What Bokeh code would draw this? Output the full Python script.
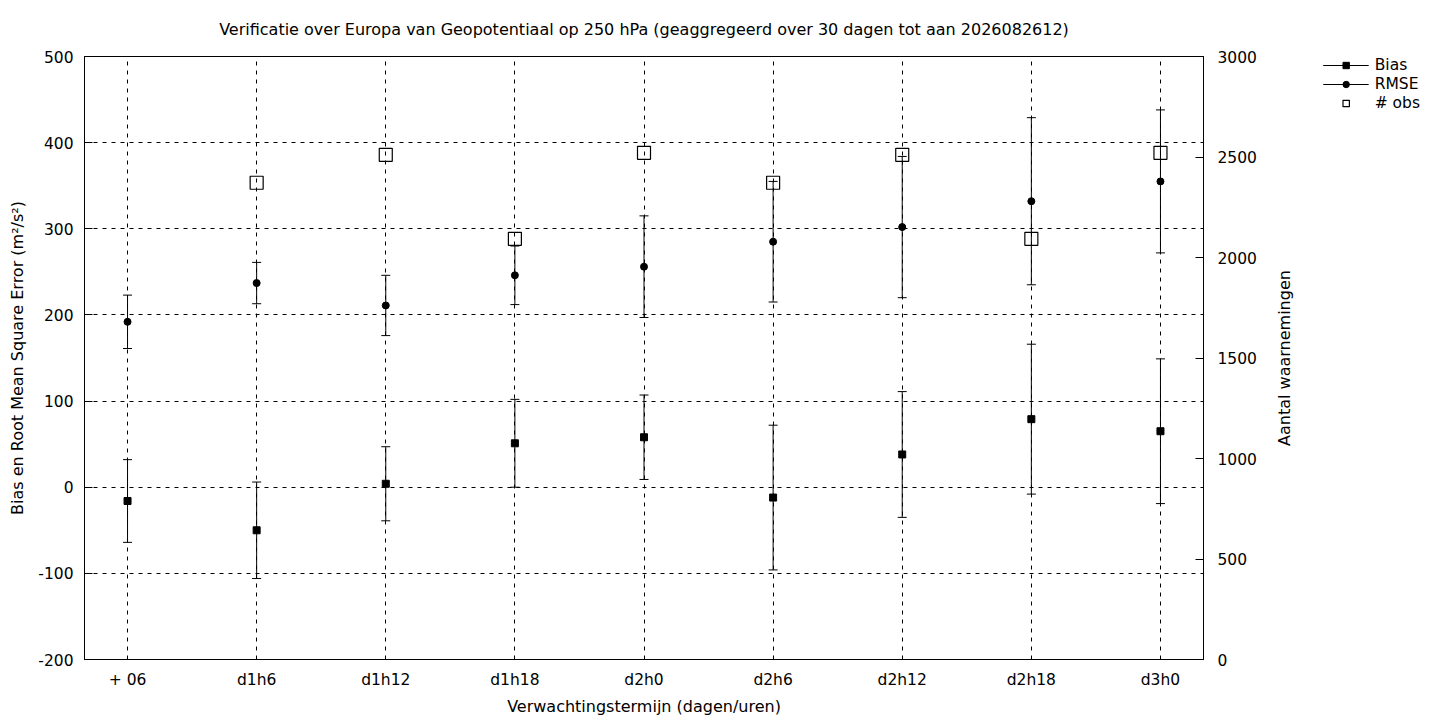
import math
from bokeh.plotting import figure
from bokeh.layouts import row
from bokeh.models import (Range1d, LinearAxis, FixedTicker, Legend, LegendItem,
                          ColumnDataSource, Label)
from bokeh.embed import file_html
from bokeh.resources import INLINE

FONT = "DejaVu Sans"

# forecast lead times
lead_labels = ["+ 06", "d1h6", "d1h12", "d1h18", "d2h0", "d2h6", "d2h12", "d2h18", "d3h0"]

bias = [-16, -50, 4, 51, 58, -12, 38, 79, 65]
bias_err = [48, 56, 43, 51, 49, 84, 73, 87, 84]

rmse = [192, 237, 211, 246, 256, 285, 302, 332, 355]
rmse_err = [31, 24, 35, 34, 59, 70, 82, 97, 83]

n_obs = [float("nan"), 2372, 2511, 2093, 2521, 2372, 2511, 2093, 2521]

y_ticks = list(range(-200, 501, 100))
y2_ticks = list(range(0, 3001, 500))

x = list(range(len(lead_labels)))

W, H = 1440, 720
MAIN_W = 1265
TOP = 56
BOTTOM = 61


def err_source(vals, errs):
    return ColumnDataSource(dict(
        x=x, y=vals,
        lo=[v - e for v, e in zip(vals, errs)],
        hi=[v + e for v, e in zip(vals, errs)],
    ))


fig = figure(width=MAIN_W, height=H, output_backend="svg", toolbar_location=None,
             x_range=Range1d(-1 / 3, len(x) - 1 + 1 / 3),
             y_range=Range1d(-200, 500),
             min_border_left=84, min_border_right=62,
             min_border_top=TOP, min_border_bottom=BOTTOM)
fig.extra_y_ranges = {"obs": Range1d(0, 3000)}

fig.title.text = ("Verificatie over Europa van Geopotentiaal op 250 hPa "
                  "(geaggregeerd over 30 dagen tot aan 2026082612)")
fig.title.align = "center"
fig.title.text_font = FONT
fig.title.text_font_size = "16px"
fig.title.text_font_style = "normal"
fig.title.text_color = "black"
fig.title.standoff = 35

fig.outline_line_color = "black"
fig.outline_line_alpha = 1

for g in (fig.xgrid, fig.ygrid):
    g.grid_line_color = "black"
    g.grid_line_dash = "4 5"
    g.grid_line_width = 1
    g.grid_line_alpha = 1

fig.xaxis.ticker = FixedTicker(ticks=x)
fig.xaxis.major_label_overrides = {i: lab for i, lab in enumerate(lead_labels)}
fig.xaxis.axis_label = "Verwachtingstermijn (dagen/uren)"
fig.xaxis.major_tick_in = 0
fig.xaxis.major_tick_out = 0
fig.xaxis.minor_tick_line_color = None
fig.xaxis.major_label_standoff = 11
fig.xaxis.axis_label_standoff = 5

fig.yaxis.ticker = FixedTicker(ticks=y_ticks)
fig.yaxis.major_label_overrides = {t: str(t) for t in y_ticks}
fig.yaxis.axis_label = "Bias en Root Mean Square Error (m²/s²)"
fig.yaxis.major_tick_in = 8
fig.yaxis.major_tick_out = 0
fig.yaxis.minor_tick_line_color = None
fig.yaxis.major_label_standoff = 11
fig.yaxis.axis_label_standoff = 8

y2 = LinearAxis(y_range_name="obs", ticker=FixedTicker(ticks=y2_ticks))
y2.major_tick_in = 8
y2.major_tick_out = 0
y2.minor_tick_line_color = None
y2.major_label_standoff = 14
fig.add_layout(y2, "right")

for ax in (fig.xaxis[0], fig.yaxis[0], y2):
    ax.axis_line_color = "black"
    ax.major_tick_line_color = "black"
    ax.major_label_text_font = FONT
    ax.major_label_text_font_size = "15.5px"
    ax.major_label_text_color = "black"
    ax.axis_label_text_font = FONT
    ax.axis_label_text_font_size = "16px"
    ax.axis_label_text_font_style = "normal"
    ax.axis_label_text_color = "black"

# Bias
src_b = err_source(bias, bias_err)
fig.segment("x", "lo", "x", "hi", source=src_b, line_color="black", line_width=1)
fig.scatter("x", "lo", source=src_b, marker="dash", size=9, line_color="black")
fig.scatter("x", "hi", source=src_b, marker="dash", size=9, line_color="black")
fig.scatter("x", "y", source=src_b, marker="square", size=7,
            fill_color="black", line_color="black")

# RMSE
src_r = err_source(rmse, rmse_err)
fig.segment("x", "lo", "x", "hi", source=src_r, line_color="black", line_width=1)
fig.scatter("x", "lo", source=src_r, marker="dash", size=9, line_color="black")
fig.scatter("x", "hi", source=src_r, marker="dash", size=9, line_color="black")
fig.scatter("x", "y", source=src_r, marker="circle", size=7,
            fill_color="black", line_color="black")

# number of observations on the right axis
fig.scatter(x, n_obs, y_range_name="obs", marker="square", size=13,
            fill_color=None, line_color="black", line_width=1.2)

# strip to the right of the plot: y2 title and the key.
# Its frame has the same top and bottom as the plot, and its ranges are in pixels;
# the key's sample glyphs sit at a point off the strip.
key_w = W - MAIN_W
key_pad_r = 20
key_fw = key_w - key_pad_r
key_fh = H - TOP - BOTTOM
key = figure(width=key_w, height=H, output_backend="svg", toolbar_location=None,
             x_range=Range1d(0, key_fw), y_range=Range1d(0, key_fh),
             x_axis_location=None, y_axis_location=None,
             min_border_left=0, min_border_right=key_pad_r,
             min_border_top=TOP, min_border_bottom=BOTTOM)
key.grid.visible = False
key.outline_line_color = None

key.add_layout(Label(x=1284 - MAIN_W, y=key_fh / 2,
                     text="Aantal waarnemingen",
                     angle=math.pi / 2, text_align="center", text_baseline="middle",
                     text_font=FONT, text_font_size="16px", text_color="black"))

off = [-100]
k_bar_b = key.segment(x0=off, y0=off, x1=off, y1=off, line_color="black", line_width=1)
k_pt_b = key.scatter(x=off, y=off, marker="square", size=7,
                     fill_color="black", line_color="black")
k_bar_r = key.segment(x0=off, y0=off, x1=off, y1=off, line_color="black", line_width=1)
k_pt_r = key.scatter(x=off, y=off, marker="circle", size=7,
                     fill_color="black", line_color="black")
k_pt_o = key.scatter(x=off, y=off, marker="square", size=13,
                     fill_color=None, line_color="black", line_width=1.2)

legend = Legend(items=[
    LegendItem(label="Bias", renderers=[k_bar_b, k_pt_b]),
    LegendItem(label="RMSE", renderers=[k_bar_r, k_pt_r]),
    LegendItem(label="# obs", renderers=[k_pt_o]),
], location="top_right")
legend.padding = 0
legend.margin = 0
legend.spacing = 1
legend.glyph_width = 46
legend.glyph_height = 16
legend.label_height = 16
legend.label_standoff = 6
legend.border_line_color = None
legend.background_fill_alpha = 0
legend.label_text_font = FONT
legend.label_text_font_size = "15.5px"
legend.label_text_color = "black"
key.add_layout(legend, "center")

p = row(fig, key)

open("out.html", "w").write(file_html(p, INLINE))
